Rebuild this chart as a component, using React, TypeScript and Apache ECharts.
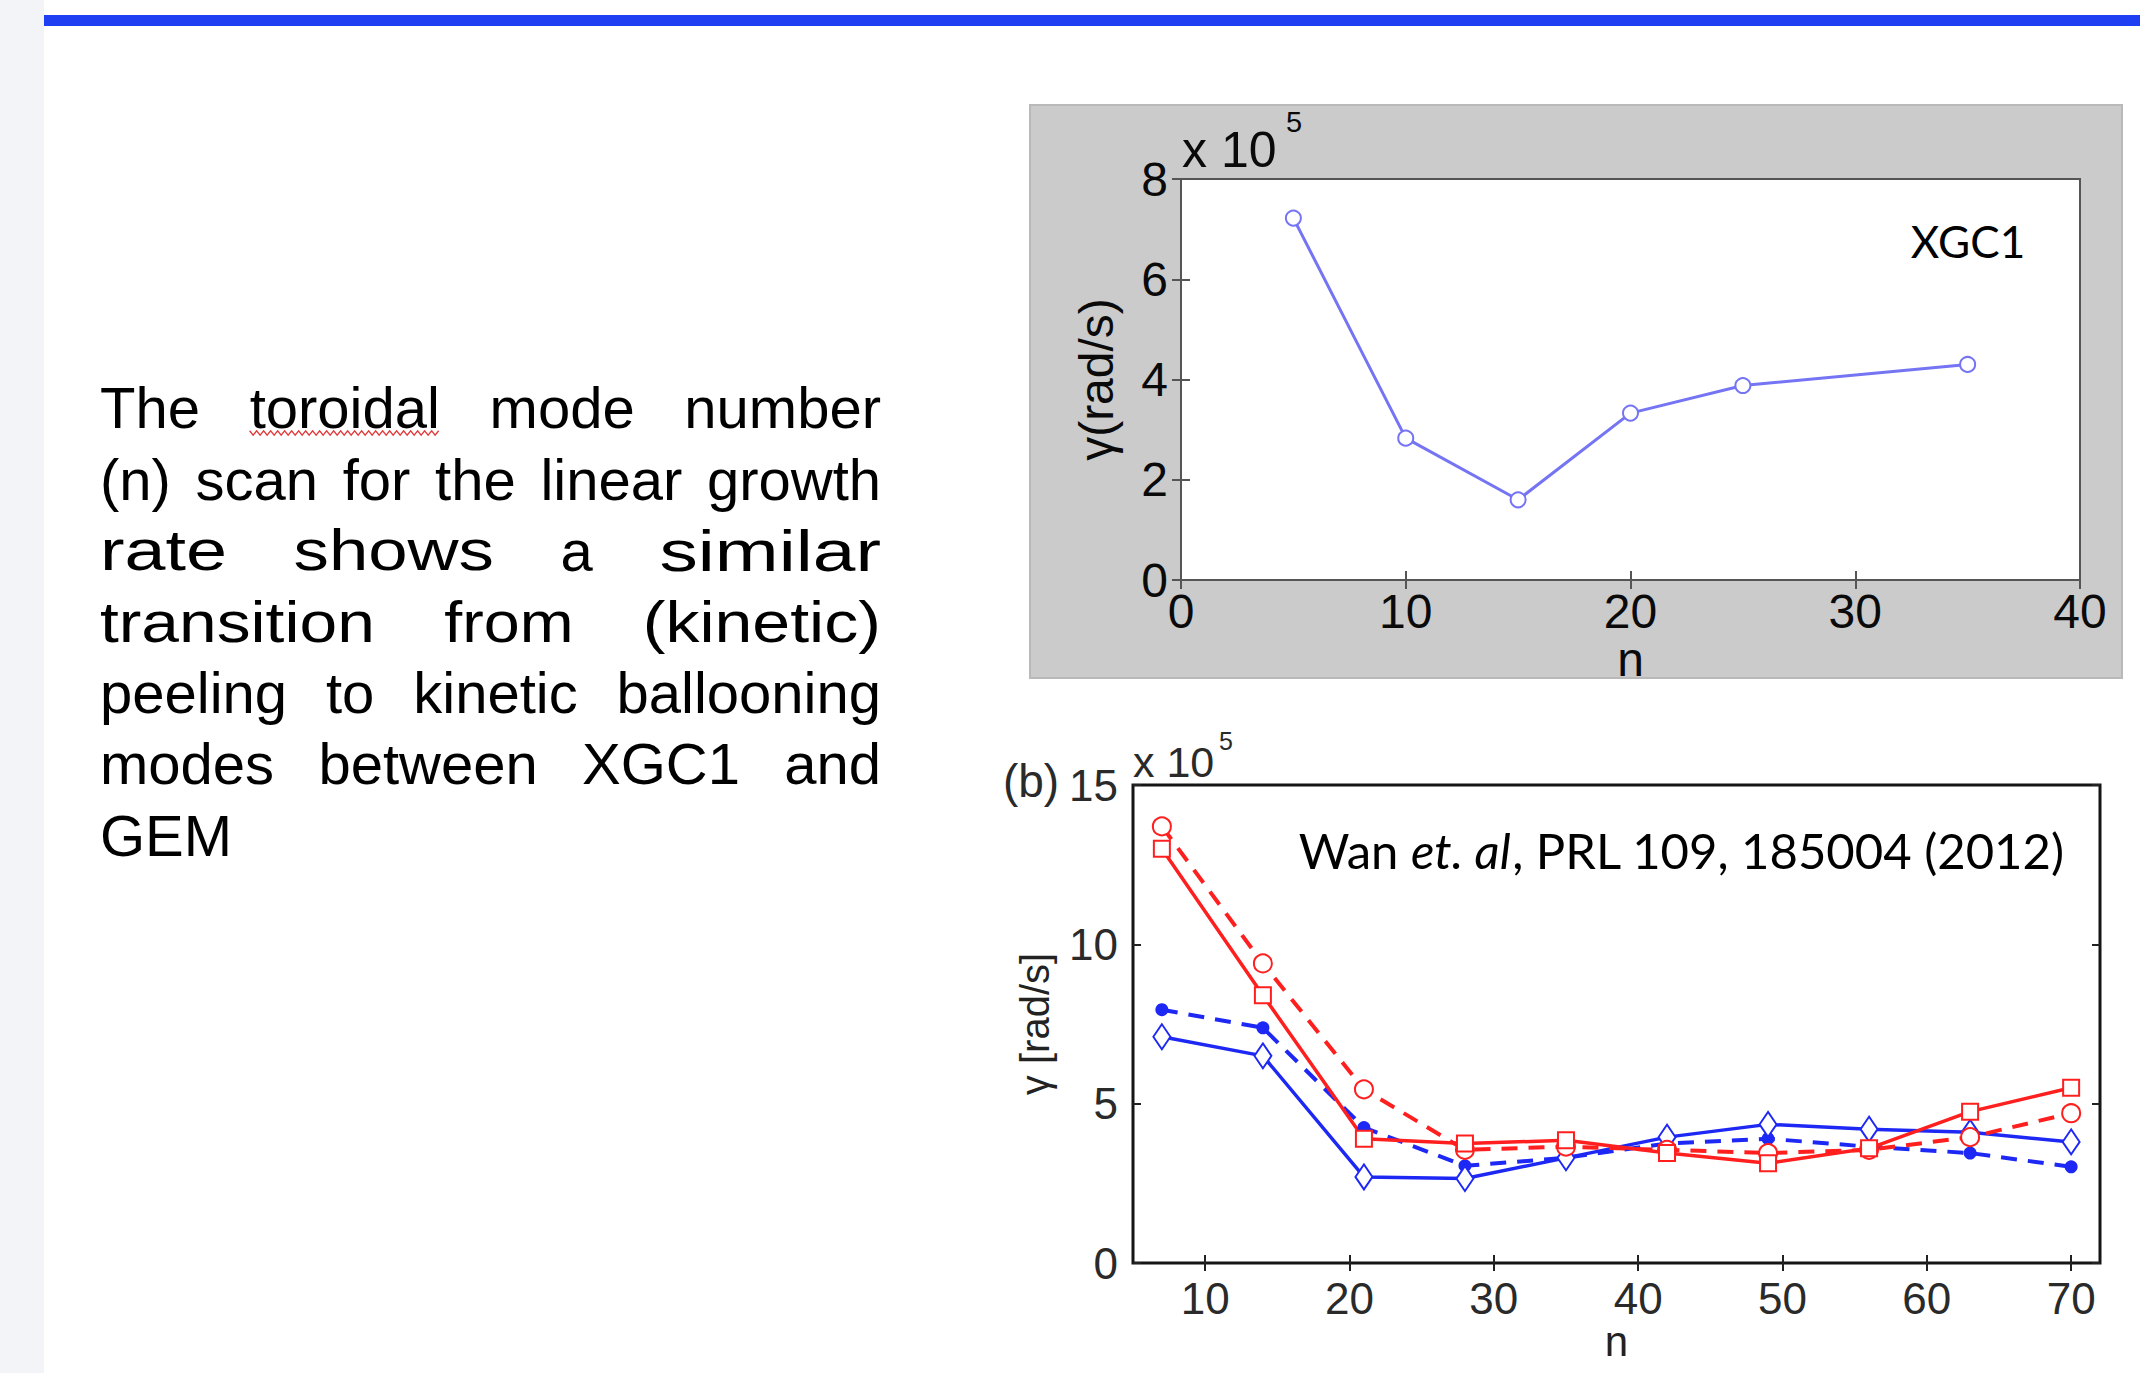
import React, { useEffect, useRef } from "react";
import * as echarts from "echarts";

const W = 2150;
const H = 1373;

// ---------- Top chart (XGC1) ----------
const xgcN = [5, 10, 15, 20, 25, 35];
const xgcGamma = [7.22, 2.83, 1.6, 3.33, 3.88, 4.3];
const xgcXTicks = [0, 10, 20, 30, 40];
const xgcYTicks = [0, 2, 4, 6, 8];

// ---------- Bottom chart (GEM, Wan et al.) ----------
const gemN = [7, 14, 21, 28, 35, 42, 49, 56, 63, 70];
const redSolidSquares = [13.0, 8.4, 3.9, 3.75, 3.85, 3.45, 3.13, 3.6, 4.75, 5.5];
const redDashedCircles = [13.7, 9.4, 5.45, 3.55, 3.65, 3.55, 3.45, 3.55, 3.95, 4.7];
const blueSolidDiamonds = [7.1, 6.5, 2.7, 2.65, 3.3, 3.95, 4.35, 4.2, 4.1, 3.8];
const blueDashedDots = [7.95, 7.38, 4.25, 3.05, 3.3, 3.75, 3.9, 3.65, 3.45, 3.02];
const gemXTicks = [10, 20, 30, 40, 50, 60, 70];
const gemYTicks = [0, 5, 10, 15];

// ---------- Texts ----------
const paragraphLines = [
  "The toroidal mode number",
  "(n) scan for the linear growth",
  "rate shows a similar",
  "transition from (kinetic)",
  "peeling to kinetic ballooning",
  "modes between XGC1 and",
  "GEM",
];
const paragraphLetterSpacing = [0, 0, 9, 4.4, 0, 0, 0];
const citation = "Wan {i|et. al}, PRL 109, 185004 (2012)";
const citationPlain = "Wan et. al, PRL 109, 185004 (2012)";

const SANS = "'Liberation Sans', Arial, sans-serif";
const CAL = "Lato, 'Open Sans', sans-serif";

function measure(text: string, font: string): number {
  const c = document.createElement("canvas").getContext("2d");
  if (!c) return text.length * 30;
  c.font = font;
  return c.measureText(text).width;
}

function buildParagraph(): any[] {
  const fs = 58;
  const font = `${fs}px 'Liberation Sans', Arial, sans-serif`;
  const left = 100;
  const right = 881;
  const baseline0 = 428;
  const step = 71.2;
  const els: any[] = [];
  paragraphLines.forEach((line, li) => {
    const ls = paragraphLetterSpacing[li];
    const words = line.split(" ");
    const natural = words.map((w) => measure(w, font));
    const widths = words.map((w, i) => natural[i] + ls * (w.length - 1));
    const total = widths.reduce((a, b) => a + b, 0);
    const justify = li < paragraphLines.length - 1 && words.length > 1;
    const gap = justify ? (right - left - total) / (words.length - 1) : measure(" ", font);
    let x = left;
    const cy = baseline0 + li * step - fs * 0.3465;
    words.forEach((w, i) => {
      els.push({
        type: "text",
        x,
        y: cy,
        scaleX: widths[i] / natural[i],
        style: { text: w, font, fill: "#000", textAlign: "left", textVerticalAlign: "middle" },
      });
      if (w === "toroidal") {
        const pts: number[][] = [];
        let k = 0;
        for (let px = x; px <= x + widths[i]; px += 3.5) {
          pts.push([px, baseline0 + 5 + (k % 2 === 0 ? -2.2 : 2.2)]);
          k++;
        }
        els.push({
          type: "polyline",
          shape: { points: pts },
          style: { stroke: "#e23b3b", lineWidth: 1.4, fill: null },
        });
      }
      x += widths[i] + gap;
    });
  });
  return els;
}

function buildOption(): any {
  const citeFs = Math.round((48 * 761) / measure(citationPlain, `48px ${CAL}`));
  const xgcFs = Math.round((48 * 115) / measure("XGC1", `48px ${CAL}`));

  const tickTop = { inside: true, length: 9, lineStyle: { color: "#555", width: 2 } };
  const tickBot = { inside: true, length: 8, lineStyle: { color: "#222", width: 2 } };
  const lblTop = { fontSize: 48, color: "#0a0a0a", fontFamily: SANS };
  const lblBot = { fontSize: 44, color: "#2a2a2a", fontFamily: SANS };

  const mk = (n: number[], v: number[]) => n.map((x, i) => [x, v[i]]);
  const RED = "#ff1f1f";
  const BLUE = "#1e28f5";

  return {
    animation: false,
    backgroundColor: "#ffffff",
    grid: [
      {
        left: 1181, top: 179, width: 899, height: 401,
        show: true, backgroundColor: "#ffffff", borderColor: "#555", borderWidth: 2,
      },
      {
        left: 1133, top: 785, width: 967, height: 478,
        show: true, backgroundColor: "#ffffff", borderColor: "#151515", borderWidth: 3,
      },
    ],
    xAxis: [
      {
        type: "value", gridIndex: 0, position: "bottom", min: 0, max: 40, interval: 10,
        axisLine: { show: false }, axisTick: tickTop, splitLine: { show: false },
        axisLabel: { ...lblTop, margin: 7, customValues: xgcXTicks },
        name: "n", nameLocation: "middle", nameGap: 37,
        nameTextStyle: { fontSize: 48, color: "#0a0a0a", fontFamily: SANS },
      },
      {
        type: "value", gridIndex: 0, position: "top", min: 0, max: 40, interval: 10,
        axisLine: { show: false }, axisTick: tickTop, splitLine: { show: false },
        axisLabel: { show: false },
      },
      {
        type: "value", gridIndex: 1, position: "bottom", min: 5, max: 72,
        axisLine: { show: false },
        axisTick: { ...tickBot, customValues: gemXTicks },
        splitLine: { show: false },
        axisLabel: { ...lblBot, margin: 13, customValues: gemXTicks },
        name: "n", nameLocation: "middle", nameGap: 56,
        nameTextStyle: { fontSize: 42, color: "#222", fontFamily: SANS },
      },
      {
        type: "value", gridIndex: 1, position: "top", min: 5, max: 72,
        axisLine: { show: false },
        axisTick: { ...tickBot, customValues: gemXTicks },
        splitLine: { show: false }, axisLabel: { show: false },
      },
    ],
    yAxis: [
      {
        type: "value", gridIndex: 0, position: "left", min: 0, max: 8, interval: 2,
        axisLine: { show: false }, axisTick: tickTop, splitLine: { show: false },
        axisLabel: { ...lblTop, margin: 13, customValues: xgcYTicks },
        name: "γ(rad/s)", nameLocation: "middle", nameGap: 61,
        nameTextStyle: { fontSize: 48, color: "#0a0a0a", fontFamily: SANS },
      },
      {
        type: "value", gridIndex: 0, position: "right", min: 0, max: 8, interval: 2,
        axisLine: { show: false }, axisTick: tickTop, splitLine: { show: false },
        axisLabel: { show: false },
      },
      {
        type: "value", gridIndex: 1, position: "left", min: 0, max: 15, interval: 5,
        axisLine: { show: false }, axisTick: tickBot, splitLine: { show: false },
        axisLabel: { ...lblBot, margin: 15, customValues: gemYTicks },
        name: "γ [rad/s]", nameLocation: "middle", nameGap: 78,
        nameTextStyle: { fontSize: 40, color: "#222", fontFamily: SANS },
      },
      {
        type: "value", gridIndex: 1, position: "right", min: 0, max: 15, interval: 5,
        axisLine: { show: false }, axisTick: tickBot, splitLine: { show: false },
        axisLabel: { show: false },
      },
    ],
    series: [
      {
        name: "XGC1", type: "line", xAxisIndex: 0, yAxisIndex: 0,
        data: mk(xgcN, xgcGamma),
        symbol: "emptyCircle", symbolSize: 15,
        lineStyle: { color: "#7474f4", width: 3 },
        itemStyle: { color: "#7474f4", borderWidth: 2 },
      },
      {
        name: "blue dashed", type: "line", xAxisIndex: 2, yAxisIndex: 2,
        data: mk(gemN, blueDashedDots),
        symbol: "circle", symbolSize: 13,
        lineStyle: { color: BLUE, width: 4, type: [16, 11] },
        itemStyle: { color: BLUE },
      },
      {
        name: "blue solid", type: "line", xAxisIndex: 2, yAxisIndex: 2,
        data: mk(gemN, blueSolidDiamonds),
        symbol: "emptyDiamond", symbolSize: [17, 25],
        lineStyle: { color: BLUE, width: 3.5 },
        itemStyle: { color: BLUE, borderWidth: 3 },
      },
      {
        name: "red dashed", type: "line", xAxisIndex: 2, yAxisIndex: 2,
        data: mk(gemN, redDashedCircles),
        symbol: "emptyCircle", symbolSize: 18,
        lineStyle: { color: RED, width: 4, type: [16, 11] },
        itemStyle: { color: RED, borderWidth: 3 },
      },
      {
        name: "red solid", type: "line", xAxisIndex: 2, yAxisIndex: 2,
        data: mk(gemN, redSolidSquares),
        symbol: "emptyRect", symbolSize: 16,
        lineStyle: { color: RED, width: 3.5 },
        itemStyle: { color: RED, borderWidth: 3 },
      },
    ],
    graphic: [
      // slide chrome
      { type: "rect", z: -20, shape: { x: 0, y: 0, width: 44, height: H }, style: { fill: "#f2f4f8" } },
      { type: "rect", z: -20, shape: { x: 44, y: 15, width: W - 54, height: 11 }, style: { fill: "#1f3ff2" } },
      // grey figure panel for top chart
      {
        type: "rect", z: -10,
        shape: { x: 1030, y: 105, width: 1092, height: 573 },
        style: { fill: "#cbcbcb", stroke: "#b9b9b9", lineWidth: 2 },
      },
      // paragraph
      ...buildParagraph(),
      // top chart annotations
      { type: "text", x: 1182, y: 150, style: { text: "x 10", font: `50px ${SANS}`, fill: "#0a0a0a", textAlign: "left", textVerticalAlign: "middle" } },
      { type: "text", x: 1286, y: 122, style: { text: "5", font: `29px ${SANS}`, fill: "#0a0a0a", textAlign: "left", textVerticalAlign: "middle" } },
      { type: "text", x: 1968, y: 241, style: { text: "XGC1", font: `${xgcFs}px ${CAL}`, fill: "#000", textAlign: "center", textVerticalAlign: "middle" } },
      // bottom chart annotations
      { type: "text", x: 1031, y: 781, style: { text: "(b)", font: `46px ${SANS}`, fill: "#2a2a2a", textAlign: "center", textVerticalAlign: "middle" } },
      { type: "text", x: 1133, y: 762, style: { text: "x 10", font: `43px ${SANS}`, fill: "#2a2a2a", textAlign: "left", textVerticalAlign: "middle" } },
      { type: "text", x: 1219, y: 741, style: { text: "5", font: `25px ${SANS}`, fill: "#2a2a2a", textAlign: "left", textVerticalAlign: "middle" } },
      {
        type: "text", x: 2064, y: 850,
        style: {
          text: citation, font: `${citeFs}px ${CAL}`, fill: "#000",
          textAlign: "right", textVerticalAlign: "middle",
          rich: { i: { fontStyle: "italic", fontSize: citeFs, fontFamily: CAL, fill: "#000" } },
        },
      },
    ],
  };
}

export default function App() {
  const ref = useRef<HTMLDivElement>(null);
  useEffect(() => {
    document.body.style.margin = "0";
    const chart = echarts.init(ref.current!, null, { renderer: "svg", width: W, height: H });
    chart.setOption(buildOption());
    return () => chart.dispose();
  }, []);
  return <div ref={ref} style={{ width: W, height: H }} />;
}
